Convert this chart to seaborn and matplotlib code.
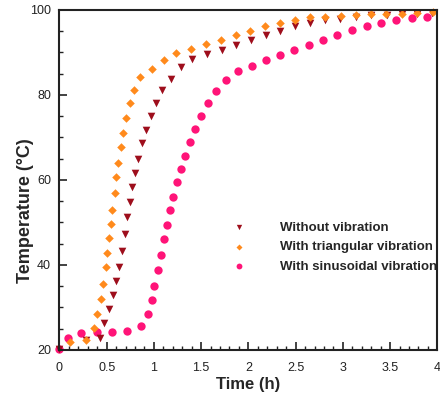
import matplotlib
matplotlib.use("Agg")
import matplotlib.pyplot as plt
import seaborn as sns
import pandas as pd
from matplotlib.ticker import MultipleLocator, FuncFormatter

# values
time_none = [0.0, 0.282, 0.428, 0.472, 0.520, 0.565, 0.602, 0.631, 0.658, 0.690,
             0.718, 0.744, 0.773, 0.799, 0.837, 0.876, 0.913, 0.971, 1.026, 1.091,
             1.180, 1.285, 1.407, 1.558, 1.716, 1.871, 2.030, 2.188, 2.339, 2.497,
             2.656, 2.814, 2.973, 3.138, 3.300, 3.466, 3.624, 3.789, 3.947]
temp_none = [20.2, 22.3, 22.9, 26.4, 29.6, 32.9, 36.3, 39.6, 43.2, 47.2,
             51.2, 54.9, 58.3, 61.6, 65.0, 68.6, 71.8, 75.1, 78.2, 81.2,
             83.8, 86.5, 88.4, 89.6, 90.6, 91.8, 92.9, 94.0, 95.1, 96.1,
             96.9, 97.5, 97.8, 98.3, 98.7, 98.9, 99.1, 99.1, 99.2]

time_tri = [0.116, 0.283, 0.366, 0.401, 0.441, 0.465, 0.489, 0.507, 0.520, 0.542,
            0.558, 0.584, 0.602, 0.621, 0.647, 0.676, 0.710, 0.750, 0.792, 0.850,
            0.985, 1.107, 1.238, 1.396, 1.549, 1.705, 1.867, 2.022, 2.177, 2.332,
            2.497, 2.656, 2.814, 2.976, 3.138, 3.300, 3.461, 3.624, 3.789, 3.955]
temp_tri = [21.8, 22.4, 25.1, 28.4, 31.9, 35.4, 39.5, 42.9, 46.4, 49.6,
            52.8, 56.9, 60.6, 64.0, 67.8, 71.1, 74.6, 78.0, 81.1, 84.1,
            86.0, 88.1, 89.8, 90.8, 91.9, 92.8, 94.0, 95.0, 96.1, 96.9,
            97.6, 98.3, 98.4, 98.6, 98.8, 99.0, 99.1, 99.1, 99.2, 99.4]

time_sin = [0.0, 0.093, 0.227, 0.393, 0.558, 0.713, 0.864, 0.938, 0.977, 1.005,
            1.043, 1.072, 1.103, 1.143, 1.172, 1.202, 1.244, 1.283, 1.325, 1.381,
            1.439, 1.502, 1.577, 1.660, 1.758, 1.892, 2.036, 2.188, 2.336, 2.487,
            2.638, 2.793, 2.938, 3.096, 3.254, 3.405, 3.567, 3.730, 3.888]
temp_sin = [20.2, 22.9, 23.9, 24.2, 24.2, 24.5, 25.6, 28.4, 31.8, 35.1,
            38.8, 42.3, 46.0, 49.4, 52.9, 55.9, 59.4, 62.5, 65.7, 68.8,
            72.0, 75.1, 78.1, 80.9, 83.5, 85.5, 86.7, 88.1, 89.3, 90.5,
            91.8, 93.0, 94.1, 95.2, 96.3, 96.9, 97.5, 98.0, 98.3]

labels = ["Without vibration", "With triangular vibration", "With sinusoidal vibration"]
colors = ["#9e0e1c", "#ff8a1c", "#ff1478"]

sns.set_style("ticks")
plt.rcParams['font.family'] = ['Liberation Sans', 'DejaVu Sans']

fig = plt.figure(figsize=(4.4, 3.94), dpi=100)
ax = fig.add_axes([0.135, 0.112, 0.859, 0.863])

df_sin = pd.DataFrame({"time": time_sin, "temp": temp_sin})
df_none = pd.DataFrame({"time": time_none, "temp": temp_none})
df_tri = pd.DataFrame({"time": time_tri, "temp": temp_tri})

sns.scatterplot(data=df_sin, x="time", y="temp", ax=ax, marker="o", s=36,
                color=colors[2], linewidth=0, label=labels[2], clip_on=False)
sns.scatterplot(data=df_none, x="time", y="temp", ax=ax, marker="v", s=30,
                color=colors[0], linewidth=0, label=labels[0], clip_on=False)
sns.scatterplot(data=df_tri, x="time", y="temp", ax=ax, marker="D", s=19,
                color=colors[1], linewidth=0, label=labels[1], clip_on=False)

ax.set_xlim(0, 4)
ax.set_ylim(20, 100)
ax.xaxis.set_major_locator(MultipleLocator(0.5))
ax.xaxis.set_minor_locator(MultipleLocator(0.1))
ax.yaxis.set_major_locator(MultipleLocator(20))
ax.yaxis.set_minor_locator(MultipleLocator(5))
ax.xaxis.set_major_formatter(FuncFormatter(lambda v, p: f"{v:g}"))
ax.tick_params(which="major", direction="in", length=6, width=1.2, labelsize=9,
               colors="#222222", pad=6)
ax.tick_params(which="minor", direction="in", length=3, width=1.0, colors="#222222")
ax.tick_params(axis="x", which="major", pad=9)

for side in ["left", "bottom", "top", "right"]:
    ax.spines[side].set_linewidth(1.5)
    ax.spines[side].set_color("#222222")

ax.set_xlabel("Time (h)", fontsize=12, fontweight="bold", labelpad=2)
ax.set_ylabel("Temperature (°C)", fontsize=13, fontweight="bold")
ax.yaxis.set_label_coords(-0.068, 0.41)

handles, labs = ax.get_legend_handles_labels()
order = [labs.index(l) for l in labels]
ax.legend([handles[i] for i in order], [labs[i] for i in order],
          loc="upper left", bbox_to_anchor=(0.457, 0.378), frameon=False,
          prop={"weight": "bold", "size": 9.5}, handlelength=1.0,
          handletextpad=2.6, labelspacing=0.55, borderpad=0, borderaxespad=0,
          markerscale=0.7)

fig.savefig("out.png", dpi=100)
